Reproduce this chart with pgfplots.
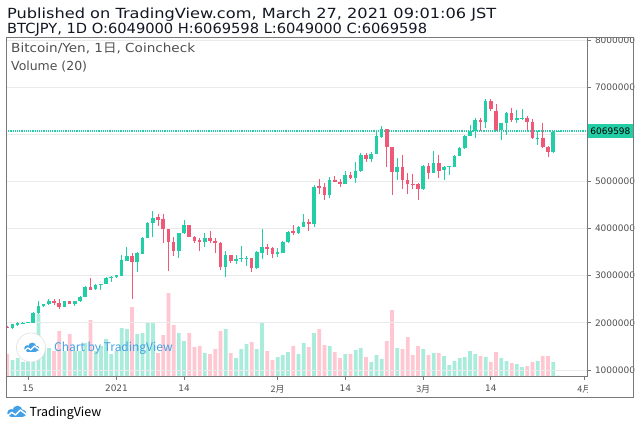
\documentclass[border=0pt]{standalone}
\usepackage{fontspec}
\setmainfont{DejaVu Sans}
\newfontfamily\cjk{Noto Sans CJK JP}
\usepackage{pgfplots}
\usepackage{pgfplotstable}
\pgfplotsset{compat=1.18}
\definecolor{upc}{RGB}{34,206,165}
\definecolor{dnc}{RGB}{239,88,118}
\definecolor{volup}{RGB}{170,236,220}
\definecolor{voldn}{RGB}{255,199,209}
\definecolor{gridc}{RGB}{234,234,234}
\definecolor{axc}{RGB}{120,120,120}
\definecolor{labc}{RGB}{80,80,80}
\definecolor{tvblue}{RGB}{66,160,230}
\definecolor{titc}{RGB}{19,23,34}

% prices in million JPY, volume in relative units
\pgfplotstableread{
d O H L C V
-20 1.883 1.980 1.875 1.968 16
-19 1.947 2.010 1.940 1.997 18
-18 1.997 2.010 1.990 2.004 14
-17 2.004 2.020 2.000 2.011 17
-16 2.004 2.230 2.000 2.202 22
-15 2.202 2.463 2.190 2.357 62
-14 2.350 2.400 2.330 2.392 30
-13 2.392 2.513 2.380 2.463 28
-10 2.343 2.470 2.330 2.463 25
-8 2.400 2.470 2.364 2.463 25
-7 2.463 2.560 2.450 2.555 25
-6 2.548 2.774 2.540 2.753 33
-4 2.711 2.830 2.700 2.810 25
-3 2.810 2.820 2.690 2.817 30
-2 2.831 2.970 2.820 2.958 37
-1 2.951 3.000 2.873 2.979 22
0 2.972 3.020 2.960 3.015 25
1 2.994 3.432 2.990 3.333 48
2 3.319 3.602 3.310 3.418 47
4 3.284 3.510 3.086 3.474 42
5 3.467 3.820 3.460 3.807 43
6 3.807 4.146 3.800 4.118 53
7 4.118 4.380 3.814 4.224 53
12 3.524 3.910 3.382 3.906 43
13 3.899 4.175 3.890 4.068 35
17 3.715 3.906 3.616 3.807 23
21 3.190 3.531 2.979 3.439 47
23 3.319 3.440 3.240 3.354 18
24 3.360 3.630 3.300 3.369 27
25 3.369 3.418 3.213 3.375 32
27 3.170 3.524 3.140 3.496 27
28 3.490 4.000 3.350 3.602 54
31 3.453 3.580 3.390 3.496 19
32 3.490 3.743 3.480 3.708 21
33 3.708 3.950 3.700 3.934 24
35 3.906 4.050 3.890 4.040 22
36 4.040 4.309 4.030 4.140 33
38 4.090 4.924 4.040 4.890 43
41 4.712 5.087 4.648 5.037 30
44 4.952 5.221 4.940 5.136 22
46 5.066 5.419 4.974 5.221 26
47 5.221 5.596 5.210 5.553 28
49 5.483 5.630 5.420 5.589 14
50 5.589 6.050 5.580 5.964 21
51 5.950 6.180 5.930 6.110 17
54 5.194 5.490 5.030 5.300 28
59 4.833 5.340 4.820 5.328 27
61 5.186 5.646 5.180 5.400 23
63 5.243 5.330 5.030 5.314 20
64 5.314 5.330 5.130 5.328 11
65 5.314 5.560 5.300 5.547 15
66 5.547 5.740 5.540 5.703 18
67 5.703 5.980 5.690 5.964 19
68 5.964 6.197 5.960 6.080 25
69 6.080 6.340 5.930 6.296 22
71 6.254 6.750 6.140 6.706 19
74 6.090 6.240 5.880 6.233 18
75 6.233 6.466 5.990 6.445 15
77 6.303 6.520 6.250 6.339 12
78 6.335 6.537 6.300 6.340 9
81 5.915 6.080 5.780 5.930 15
84 5.620 6.060 5.600 6.049 14
85 6.049 6.0696 6.049 6.0696 0.5
}\up

\pgfplotstableread{
d O H L C V
-21 1.920 1.930 1.890 1.897 22
-12 2.463 2.506 2.385 2.414 25
-11 2.414 2.499 2.293 2.336 45
-9 2.463 2.470 2.400 2.407 42
-5 2.753 2.944 2.700 2.704 56
3 3.418 3.474 2.513 3.284 69
8 4.238 4.302 4.061 4.189 23
9 4.196 4.302 3.687 3.984 41
10 3.991 4.000 3.100 3.708 83
11 3.708 3.828 3.418 3.531 51
14 4.068 4.080 3.820 3.828 43
15 3.828 3.850 3.690 3.736 29
16 3.757 3.807 3.524 3.715 30
18 3.807 3.940 3.700 3.736 22
19 3.743 3.800 3.489 3.687 27
20 3.700 3.720 3.120 3.190 45
22 3.439 3.450 3.280 3.312 23
26 3.369 3.380 3.070 3.170 34
29 3.609 3.665 3.439 3.574 25
30 3.588 3.609 3.370 3.453 16
34 3.940 4.076 3.863 3.906 30
37 4.132 4.200 3.948 4.097 29
39 4.903 5.050 4.726 4.867 47
40 4.874 4.960 4.613 4.712 31
42 5.037 5.115 4.980 4.995 24
43 4.990 5.060 4.890 4.952 18
45 5.136 5.200 5.050 5.066 22
48 5.553 5.596 5.420 5.483 19
52 6.106 6.120 5.310 5.724 35
53 5.724 5.740 4.713 5.194 66
55 5.300 5.560 4.850 5.030 27
56 5.030 5.186 4.727 4.939 39
57 4.946 5.150 4.830 4.925 21
58 4.946 4.960 4.606 4.833 30
60 5.328 5.400 5.050 5.186 21
62 5.400 5.560 5.070 5.230 23
70 6.296 6.340 6.080 6.254 20
72 6.706 6.750 6.500 6.537 14
73 6.500 6.640 6.080 6.090 24
76 6.445 6.565 6.254 6.303 13
79 6.339 6.390 6.090 6.268 10
80 6.268 6.320 5.900 5.915 14
82 5.930 6.250 5.700 5.720 20
83 5.740 5.760 5.526 5.620 20
}\dn

\newcommand{\tvlogo}[3]{%
\begin{scope}[shift={(#1,#2)}, scale=#3]
\fill[tvblue] (-5.5,-0.5) circle (4.2);
\fill[tvblue] (1,2) circle (5.2);
\fill[tvblue] (6.5,-0.8) circle (3.8);
\fill[tvblue] (-5.5,-4.7) rectangle (6.5,-0.5);
\draw[white, line width=1.4bp, line join=round] (-10,-4.2) -- (-5,0.2) -- (-1,-2.6) -- (4,2.6) -- (10.5,-2.2);
\end{scope}}

\begin{document}
\begin{tikzpicture}[x=1bp,y=1bp]
\fill[white] (0,0) rectangle (640,430);

% volume pane
\begin{axis}[at={(6bp,54bp)}, anchor=south west, scale only axis,
  width=581bp, height=339bp, xmin=-21.25, xmax=90.5, ymin=0, ymax=339,
  axis lines=none, ybar, bar width=0.72]
\addplot[fill=volup, draw=none, bar shift=0pt] table[x=d,y=V]{\up};
\addplot[fill=voldn, draw=none, bar shift=0pt] table[x=d,y=V]{\dn};
\end{axis}

% price pane
\begin{axis}[at={(6bp,54bp)}, anchor=south west, scale only axis,
  width=581bp, height=339bp, xmin=-21.25, xmax=90.5, ymin=0.8727, ymax=8.064,
  axis line style={draw=axc, line width=0.8bp},
  xtick={-17,0,13,31,44,59,72,90},
  xticklabels={15,2021,14,{\cjk 2月},14,{\cjk 3月},14,{\cjk 4月}},
  ytick={1,2,3,4,5,6,7,8},
  yticklabels={1000000,2000000,3000000,4000000,5000000,{},7000000,8000000},
  xtick pos=bottom, ytick pos=right, tick align=outside,
  major tick length=4bp,
  tick style={draw=axc, line width=0.8bp},
  ymajorgrids, grid style={draw=gridc, line width=0.9bp},
  ticklabel style={font=\fontsize{9}{10}\selectfont, text=labc},
  xticklabel style={yshift=-1.5bp},
  yticklabel style={xshift=0.5bp}]
\addplot[draw=upc, line width=1.1bp, dash pattern=on 1.1bp off 1.1bp] coordinates {(-21.25,6.0696) (90.5,6.0696)};
\addplot[draw=upc, line width=1bp, quiver={u=0, v=\thisrow{H}-\thisrow{L}}] table[x=d, y=L]{\up};
\addplot[draw=upc, line width=3.6bp, quiver={u=0, v=\thisrow{C}-\thisrow{O}}] table[x=d, y=O]{\up};
\addplot[draw=dnc, line width=1bp, quiver={u=0, v=\thisrow{H}-\thisrow{L}}] table[x=d, y=L]{\dn};
\addplot[draw=dnc, line width=3.6bp, quiver={u=0, v=\thisrow{C}-\thisrow{O}}] table[x=d, y=O]{\dn};
\coordinate (pl) at (axis cs:90.5,6.0696);
\end{axis}

% clip labels at frame
\fill[white] (588,32.7) rectangle (632.6,52);
\fill[white] (588,393.4) rectangle (640,400);
% price label
\node[fill=upc, inner sep=0pt, minimum width=45.6bp, minimum height=14.5bp, anchor=west,
  font=\fontsize{9}{10}\selectfont, text=black] at ([xshift=0.4bp]pl) {6069598};
% frame
\draw[axc, line width=0.8bp] (6,32.5) rectangle (633,393);

% titles
\node[anchor=base west, inner sep=0pt, font=\fontsize{14}{16}\selectfont, text=titc] at (7,411.5) {\scalebox{1.16}[1]{Published on TradingView.com, March 27, 2021 09:01:06 JST}};
\node[anchor=base west, inner sep=0pt, font=\fontsize{14}{16}\selectfont, text=titc] at (7,396.7) {\scalebox{1.05}[1]{BTCJPY, 1D O:6049000 H:6069598 L:6049000 C:6069598}};
% legend
\node[anchor=base west, inner sep=0pt, font=\fontsize{12.5}{14}\selectfont, text=labc] at (11,377.5) {\scalebox{1.09}[1]{Bitcoin/Yen, 1{\cjk 日}, Coincheck}};
\node[anchor=base west, inner sep=0pt, font=\fontsize{12.5}{14}\selectfont, text=labc] at (11,360) {Volume (20)};

% watermark
\fill[white] (31,82.5) circle (14.5);
\draw[black!12, line width=0.6bp] (31,82.5) circle (14.5);
\tvlogo{31.5}{82}{0.75}
\node[anchor=west, inner sep=0pt, font=\cjk\fontsize{12}{14}\selectfont, text=tvblue] at (54,81.5) {Chart by TradingView};

% bottom logo
\tvlogo{16.5}{17.5}{0.95}
\node[anchor=west, inner sep=0pt, font=\cjk\fontsize{12.5}{14}\selectfont, text=black] at (29.5,17) {TradingView};
\end{tikzpicture}
\end{document}
